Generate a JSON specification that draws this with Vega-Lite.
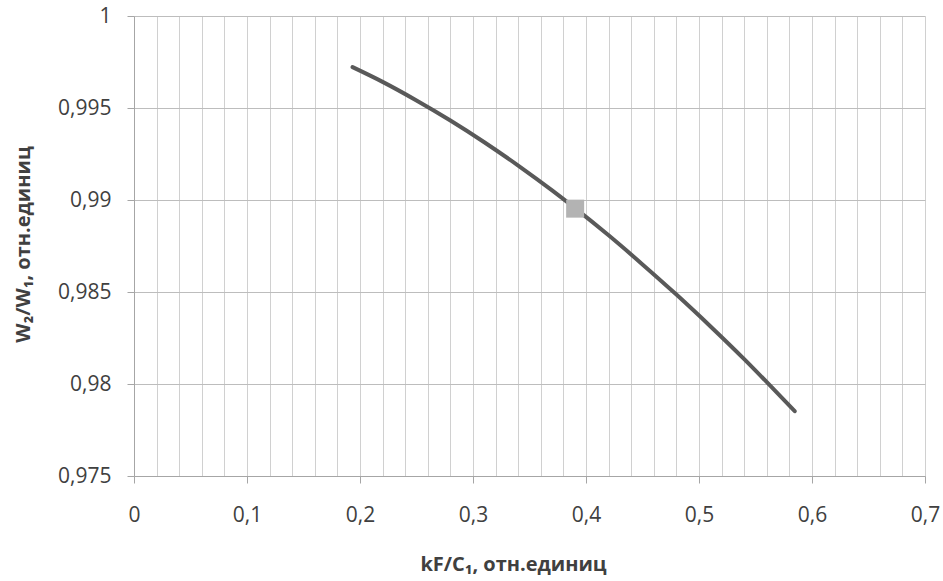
{
  "$schema": "https://vega.github.io/schema/vega-lite/v6.json",
  "autosize": "none",
  "width": 791,
  "height": 460,
  "padding": {"left": 134, "top": 16, "right": 18, "bottom": 105},
  "background": "white",
  "config": {
    "view": {"stroke": null},
    "font": "Open Sans",
    "axis": {"labelFont": "Open Sans", "titleFont": "Open Sans", "labelColor": "#404040", "titleColor": "#404040"}
  },
  "datasets": {
    "curve": [
      {"x": 0.1934, "y": 0.99722},
      {"x": 0.22, "y": 0.99642},
      {"x": 0.25, "y": 0.99541},
      {"x": 0.28, "y": 0.99432},
      {"x": 0.31, "y": 0.99314},
      {"x": 0.34, "y": 0.99187},
      {"x": 0.37, "y": 0.99052},
      {"x": 0.39, "y": 0.98957},
      {"x": 0.42, "y": 0.98808},
      {"x": 0.45, "y": 0.9865},
      {"x": 0.48, "y": 0.98486},
      {"x": 0.51, "y": 0.98314},
      {"x": 0.54, "y": 0.98135},
      {"x": 0.5611, "y": 0.98003},
      {"x": 0.5847, "y": 0.97852}
    ],
    "marker": [
      {"x": 0.3904, "y": 0.98953}
    ]
  },
  "layer": [
    {
      "data": {"name": "curve"},
      "mark": {"type": "line", "color": "#595959", "strokeWidth": 4, "strokeCap": "round", "interpolate": "monotone"},
      "encoding": {
        "x": {
          "field": "x", "type": "quantitative",
          "scale": {"domain": [0, 0.7], "nice": false, "zero": false},
          "axis": {
            "values": [0,0.02,0.04,0.06,0.08,0.1,0.12,0.14,0.16,0.18,0.2,0.22,0.24,0.26,0.28,0.3,0.32,0.34,0.36,0.38,0.4,0.42,0.44,0.46,0.48,0.5,0.52,0.54,0.56,0.58,0.6,0.62,0.64,0.66,0.68,0.7],
            "tickCount": 50,
            "labelExpr": "abs(datum.value*10 - round(datum.value*10)) < 0.001 ? (datum.value == 0 ? '0' : replace(format(datum.value, '.1f'), '.', ',')) : ''",
            "labelOverlap": false,
            "labelBound": false,
            "labelFlush": false,
            "labelFontSize": 21,
            "labelPadding": 21,
            "tickSize": 7,
            "tickColor": "#a6a6a6",
            "tickOpacity": {"condition": {"test": "abs(datum.value*10 - round(datum.value*10)) < 0.001", "value": 1}, "value": 0},
            "grid": true,
            "gridColor": "#d0d0d0",
            "gridWidth": 1,
            "domainColor": "#a6a6a6",
            "title": "kF/C₁, отн.единиц",
            "titleFontSize": 20,
            "titleFontWeight": "bold",
            "titleX": 379,
            "titleY": 88,
            "titleAlign": "center",
            "titleBaseline": "middle"
          }
        },
        "y": {
          "field": "y", "type": "quantitative",
          "scale": {"domain": [0.975, 1], "nice": false, "zero": false},
          "axis": {
            "values": [0.975, 0.98, 0.985, 0.99, 0.995, 1],
            "tickCount": 10,
            "labelExpr": "replace(toString(datum.value), '.', ',')",
            "labelFontSize": 21,
            "labelPadding": 16,
            "tickSize": 7,
            "tickColor": "#a6a6a6",
            "grid": true,
            "gridColor": "#bdbdbd",
            "gridWidth": 1,
            "domainColor": "#a6a6a6",
            "title": "W₂/W₁, отн.единиц",
            "titleFontSize": 20,
            "titleFontWeight": "bold",
            "titleAngle": -90,
            "titleX": -111,
            "titleY": 228,
            "titleAlign": "center",
            "titleBaseline": "middle"
          }
        }
      }
    },
    {
      "data": {"name": "marker"},
      "mark": {"type": "point", "shape": "square", "filled": true, "size": 324, "color": "#b3b3b3", "opacity": 1},
      "encoding": {
        "x": {"field": "x", "type": "quantitative"},
        "y": {"field": "y", "type": "quantitative"}
      }
    }
  ]
}
